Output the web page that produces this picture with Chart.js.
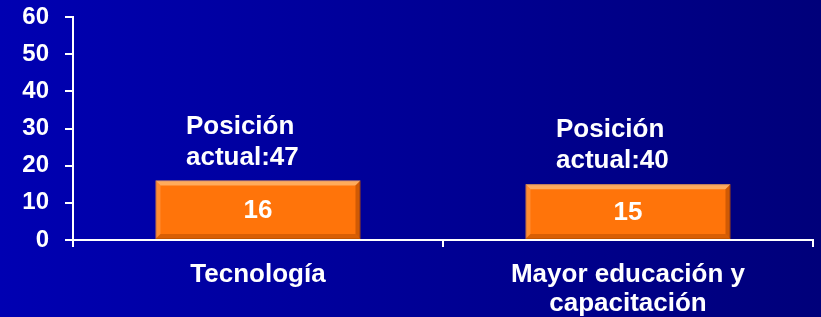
<!DOCTYPE html>
<html>
<head>
<meta charset="utf-8">
<script src="https://cdn.jsdelivr.net/npm/chart.js@4/dist/chart.umd.min.js"></script>
<style>
  html, body { margin: 0; padding: 0; }
  body {
    width: 821px; height: 317px; overflow: hidden;
    background: linear-gradient(to right, #0000B2, #00007A);
  }
  #wrap { position: relative; width: 821px; height: 317px; }
</style>
</head>
<body>
<div id="wrap"><canvas id="chart"></canvas></div>
<script>
  const categories = ["Tecnología", ["Mayor educación y", "capacitación"]];
  const values = [16, 15];
  const positions = [47, 40];
  const yTicks = [0, 10, 20, 30, 40, 50, 60];

  const FONT = "'Liberation Sans', Arial, sans-serif";

  // bevel look on bars, value inside, "Posición actual" above
  const barDecor = {
    id: "barDecor",
    afterDatasetsDraw(chart) {
      const ctx = chart.ctx;
      const meta = chart.getDatasetMeta(0);
      meta.data.forEach(function (bar, i) {
        const p = bar.getProps(["x", "y", "base", "width"], true);
        const l = p.x - p.width / 2, r = p.x + p.width / 2;
        const t = p.y, b = p.base;
        const e = 5;
        ctx.save();
        // top highlight
        ctx.fillStyle = "rgba(255,190,120,0.75)";
        ctx.beginPath();
        ctx.moveTo(l, t); ctx.lineTo(r, t); ctx.lineTo(r - e, t + e); ctx.lineTo(l + e, t + e);
        ctx.closePath(); ctx.fill();
        // left
        ctx.fillStyle = "rgba(255,160,80,0.55)";
        ctx.beginPath();
        ctx.moveTo(l, t); ctx.lineTo(l + e, t + e); ctx.lineTo(l + e, b - e); ctx.lineTo(l, b);
        ctx.closePath(); ctx.fill();
        // right
        ctx.fillStyle = "rgba(170,70,0,0.55)";
        ctx.beginPath();
        ctx.moveTo(r, t); ctx.lineTo(r - e, t + e); ctx.lineTo(r - e, b - e); ctx.lineTo(r, b);
        ctx.closePath(); ctx.fill();
        // bottom
        ctx.fillStyle = "rgba(190,80,0,0.6)";
        ctx.beginPath();
        ctx.moveTo(l, b); ctx.lineTo(l + e, b - e); ctx.lineTo(r - e, b - e); ctx.lineTo(r, b);
        ctx.closePath(); ctx.fill();

        ctx.fillStyle = "#FFFFFF";
        ctx.font = "bold 26px " + FONT;
        ctx.textAlign = "center";
        ctx.textBaseline = "middle";
        ctx.fillText(String(values[i]), p.x, (t + b) / 2 + 1);

        ctx.font = "bold 26px " + FONT;
        ctx.textAlign = "left";
        ctx.textBaseline = "alphabetic";
        const lx = p.x - 72;
        ctx.fillText("Posición", lx, t - 47);
        ctx.fillText("actual:" + positions[i], lx, t - 16);
        ctx.restore();
      });
    }
  };

  new Chart(document.getElementById("chart"), {
    type: "bar",
    data: {
      labels: categories,
      datasets: [{
        data: values,
        backgroundColor: "#FF740A",
        borderColor: "#C85A00",
        borderWidth: 1,
        borderSkipped: false,
        barPercentage: 0.554,
        categoryPercentage: 1
      }]
    },
    options: {
      responsive: true,
      maintainAspectRatio: false,
      animation: false,
      layout: { padding: { top: 17, right: 8, left: 0, bottom: 0 } },
      plugins: { legend: { display: false }, tooltip: { enabled: false } },
      scales: {
        x: {
          afterFit: function (s) { s.height = 77; },
          border: { color: "#FFFFFF", width: 2 },
          grid: { drawOnChartArea: false, color: "#FFFFFF", lineWidth: 2, tickLength: 7, offset: true },
          ticks: {
            color: "#FFFFFF",
            maxRotation: 0,
            padding: 13,
            font: { family: FONT, size: 26, weight: "bold", lineHeight: 1.13 }
          }
        },
        y: {
          min: 0,
          max: 60,
          afterFit: function (s) { s.width = 73; s.paddingTop = 0; s.paddingBottom = 0; },
          afterBuildTicks: function (s) { s.ticks = yTicks.map(function (v) { return { value: v }; }); },
          border: { color: "#FFFFFF", width: 2 },
          grid: { drawOnChartArea: false, color: "#FFFFFF", lineWidth: 2, tickLength: 8 },
          ticks: {
            color: "#FFFFFF",
            padding: 16,
            font: { family: FONT, size: 24, weight: "bold" }
          }
        }
      }
    },
    plugins: [barDecor]
  });
</script>
</body>
</html>
